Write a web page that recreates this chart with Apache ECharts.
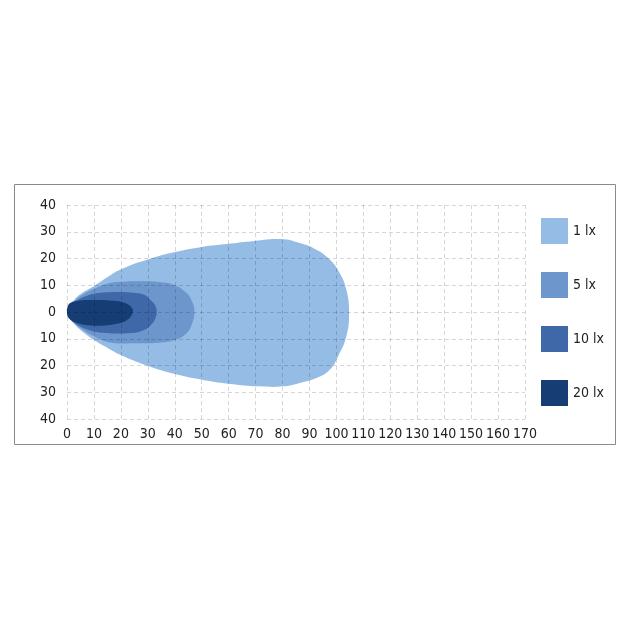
<!DOCTYPE html>
<html>
<head>
<meta charset="utf-8">
<script src="https://cdn.jsdelivr.net/npm/echarts@6/dist/echarts.min.js"></script>
<style>html,body{margin:0;padding:0;background:#fff;}#c{width:630px;height:630px;}</style>
</head>
<body>
<div id="c"></div>
<script>
const seriesNames = ['1 lx', '5 lx', '10 lx', '20 lx'];
const lux1 = [[0,0],[1,2.2],[2.5,4.3],[4.9,6.6],[9.9,9.6],[14.8,12.9],[19.7,15.8],[29.9,19.6],[40.1,22.4],[50,24.3],[59.9,25.5],[67.9,26.4],[79.6,27.3],[86.4,25.8],[92.6,23.3],[97.5,19.6],[101.2,14.6],[103.7,8.3],[104.7,-0.4],[103.7,-9.1],[100.6,-16.6],[97.5,-21.6],[92.6,-24.7],[86.4,-26.5],[80.2,-27.8],[71.6,-27.8],[59.9,-26.8],[50,-25.3],[40.1,-23.2],[29.9,-20.1],[19.7,-16],[14.8,-13.3],[9.9,-10.4],[4.9,-6.6],[2.5,-4.3],[1,-2.2]];
const lux5 = [[0,0],[1,2],[2.5,3.8],[5,6],[10,8.7],[15,10.6],[20,11.3],[28,11.5],[34,11.2],[39.5,10.2],[44.4,7.1],[46.6,3.5],[47.3,0],[46.6,-3.8],[44.4,-7.9],[39.5,-10.6],[34,-11.5],[25,-11.7],[16,-11.4],[9.9,-9.1],[4.9,-6],[2.5,-3.8],[1,-2]];
const lux10 = [[0,0],[1,1.8],[2.4,3.4],[4.5,4.8],[7.4,6.1],[11,7],[15,7.4],[20,7.5],[24.7,7.2],[28.4,6.5],[30.9,4.6],[32.7,2.5],[33.3,0],[32.7,-2.6],[30.9,-5.1],[28.4,-6.8],[24.7,-7.8],[18,-8],[13.4,-7.8],[8.6,-6.9],[3.7,-4.7],[1.5,-2.5]];
const lux20 = [[0,0],[0.2,1.8],[1.2,3.4],[4.9,4.3],[10,4.5],[16,4.3],[21.6,3.4],[24.1,1.5],[24.4,0],[22.8,-2.6],[18.5,-4.4],[9.9,-5.1],[3.7,-4.1],[0.6,-2.2]];
const shapes = [lux1, lux5, lux10, lux20];
const colors = ['#94bce5', '#6d97cc', '#3e68a7', '#163d74'];

const FONT = "'Liberation Sans Narrow','DejaVu Sans Condensed',sans-serif";
const chart = echarts.init(document.getElementById('c'), null, {renderer: 'canvas'});

const series = shapes.map((pts, i) => ({
  name: seriesNames[i],
  type: 'custom',
  coordinateSystem: 'cartesian2d',
  itemStyle: {color: colors[i]},
  data: [pts[0]],
  z: 2 + i,
  renderItem: function (params, api) {
    const p = pts.map(d => api.coord(d));
    return {
      type: 'polygon',
      shape: {points: p, smooth: 0.45},
      style: {fill: colors[i]}
    };
  }
}));

chart.setOption({
  animation: false,
  backgroundColor: '#fff',
  graphic: [{
    type: 'rect',
    shape: {x: 14.5, y: 184.5, width: 601, height: 260},
    style: {fill: 'none', stroke: '#8a8a8a', lineWidth: 1}, z: 0
  }],
  grid: {left: 67, right: 105, top: 205, bottom: 211},
  legend: {
    orient: 'vertical', left: 541, top: 218, padding: 0,
    itemWidth: 27, itemHeight: 26, itemGap: 28,
    icon: 'rect',
    data: seriesNames,
    textStyle: {fontFamily: FONT, fontSize: 14, color: '#222'},
    selectedMode: false
  },
  xAxis: {
    type: 'value', min: 0, max: 170, interval: 10, z: 10,
    axisLine: {show: false}, axisTick: {show: false},
    axisLabel: {fontFamily: FONT, fontSize: 14, color: '#222', margin: 8},
    splitLine: {show: true, lineStyle: {color: 'rgba(0,0,0,0.16)', type: [4, 3], width: 1}}
  },
  yAxis: {
    type: 'value', min: -40, max: 40, interval: 10, z: 10,
    axisLine: {show: false}, axisTick: {show: false},
    axisLabel: {fontFamily: FONT, fontSize: 14, color: '#222', margin: 11, formatter: v => String(Math.abs(v))},
    splitLine: {show: true, lineStyle: {color: 'rgba(0,0,0,0.16)', type: [4, 3], width: 1}}
  },
  series: series
});
</script>
</body>
</html>
